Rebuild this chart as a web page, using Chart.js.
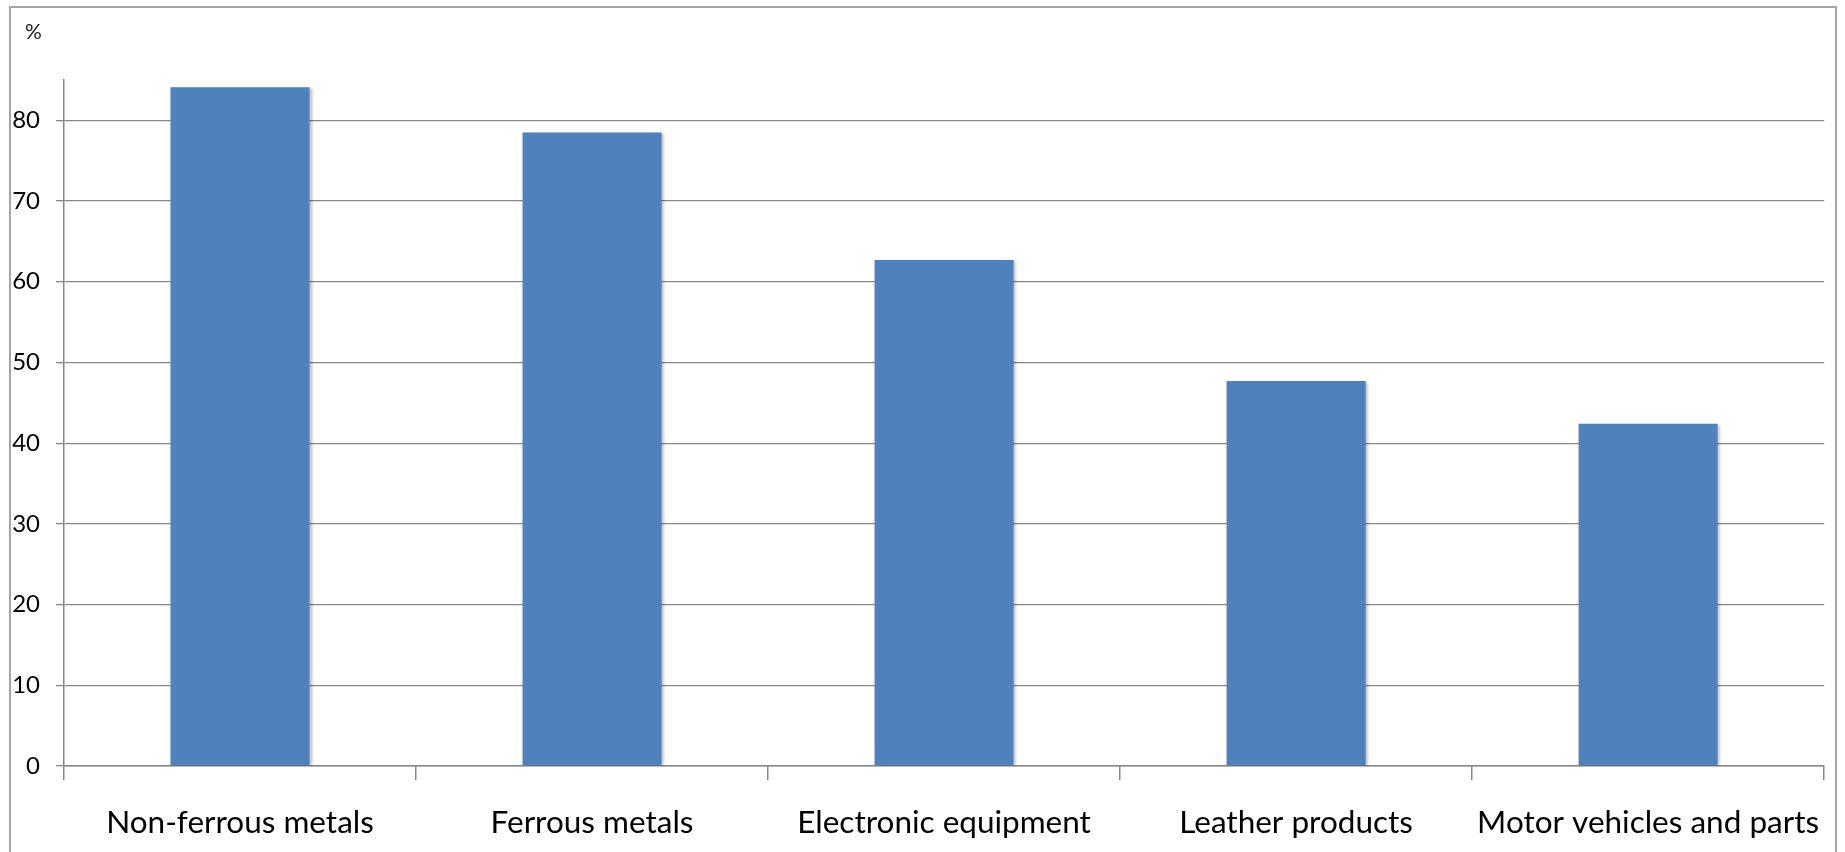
<!DOCTYPE html>
<html>
<head>
<meta charset="utf-8">
<script src="https://cdn.jsdelivr.net/npm/chart.js@4/dist/chart.umd.min.js"></script>
<style>
  html, body { margin: 0; padding: 0; background: #ffffff; }
  #wrap { width: 1845px; height: 852px; position: relative; }
</style>
</head>
<body>
<div id="wrap"><canvas id="chart" width="1845" height="852"></canvas></div>
<script>
// Share of sector output (%)
const categories = [
  'Non-ferrous metals',
  'Ferrous metals',
  'Electronic equipment',
  'Leather products',
  'Motor vehicles and parts'
];
const shareValues = [84.1, 78.5, 62.7, 47.7, 42.4];
const yTickValues = [0, 10, 20, 30, 40, 50, 60, 70, 80];
const unitLabel = '%';

const FONT = 'Lato, "Liberation Sans", Arial, sans-serif';
const AXIS_GREY = '#878787';

// Light frame around the chart and the unit label above the value axis
const framePlugin = {
  id: 'frame',
  beforeDraw(chart) {
    const ctx = chart.ctx;
    ctx.save();
    ctx.strokeStyle = '#a6a6a6';
    ctx.lineWidth = 2;
    ctx.beginPath();
    ctx.moveTo(10, 860);
    ctx.lineTo(10, 7);
    ctx.lineTo(1836, 7);
    ctx.lineTo(1836, 860);
    ctx.stroke();
    ctx.restore();
  },
  afterDraw(chart) {
    const ctx = chart.ctx;
    ctx.save();
    ctx.fillStyle = '#222222';
    ctx.font = '21px ' + FONT;
    ctx.textAlign = 'left';
    ctx.textBaseline = 'middle';
    ctx.fillText(unitLabel, 25, 32);
    ctx.restore();
  }
};

// Soft drop shadow under the bars
const barShadowPlugin = {
  id: 'barShadow',
  beforeDatasetsDraw(chart) {
    const ctx = chart.ctx;
    ctx.save();
    ctx.shadowColor = 'rgba(0,0,0,0.28)';
    ctx.shadowBlur = 3;
    ctx.shadowOffsetX = 2;
    ctx.shadowOffsetY = 1;
  },
  afterDatasetsDraw(chart) {
    chart.ctx.restore();
  }
};

new Chart(document.getElementById('chart'), {
  type: 'bar',
  data: {
    labels: categories,
    datasets: [{
      data: shareValues,
      backgroundColor: '#4f81bd',
      borderWidth: 0,
      categoryPercentage: 1,
      barPercentage: 0.395
    }]
  },
  options: {
    responsive: false,
    animation: false,
    events: [],
    layout: { padding: { left: 0, right: 19, top: 80, bottom: 0 } },
    plugins: {
      legend: { display: false },
      tooltip: { enabled: false },
      title: { display: false }
    },
    scales: {
      x: {
        offset: true,
        grid: {
          display: true,
          offset: true,
          drawOnChartArea: false,
          drawTicks: true,
          tickLength: 14,
          color: AXIS_GREY,
          lineWidth: 1.5
        },
        border: { display: true, color: AXIS_GREY, width: 1.5 },
        ticks: {
          color: '#000000',
          padding: 24,
          maxRotation: 0,
          autoSkip: false,
          font: { family: FONT, size: 31.5 }
        },
        afterFit(scale) { scale.height = 86; }
      },
      y: {
        min: 0,
        max: 85,
        afterBuildTicks(scale) {
          scale.ticks = yTickValues.map(v => ({ value: v }));
        },
        grid: {
          color: AXIS_GREY,
          lineWidth: 1.3,
          drawTicks: true,
          tickLength: 8
        },
        border: { display: true, color: AXIS_GREY, width: 1.5 },
        ticks: {
          color: '#000000',
          padding: 16,
          font: { family: FONT, size: 24 }
        },
        afterFit(scale) { scale.width = 64; }
      }
    }
  },
  plugins: [framePlugin, barShadowPlugin]
});
</script>
</body>
</html>
